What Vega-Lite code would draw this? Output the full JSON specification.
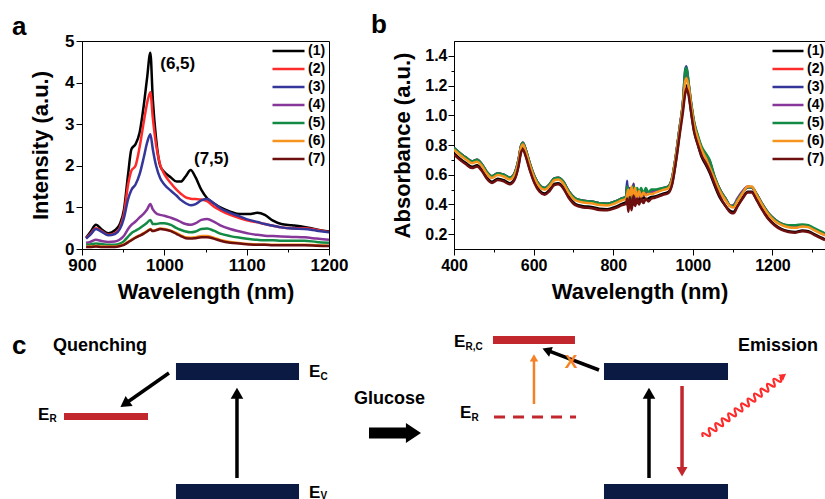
{
"$schema": "https://vega.github.io/schema/vega-lite/v6.json",
"padding": {"left": 11, "top": 11, "right": 0, "bottom": 0},
"background": "white",
"config": {
  "font": "Liberation Sans",
  "view": {"stroke": "black", "strokeWidth": 1},
  "axis": {"grid": false, "domainColor": "black", "tickColor": "black", "labelColor": "black", "titleColor": "black", "labelFontWeight": "bold", "titleFontWeight": "bold", "titleFontSize": 22, "labelFlush": false, "labelOverlap": false, "tickWidth": 1, "domainWidth": 1},
  "legend": {"labelColor": "black", "labelFontWeight": "bold", "labelFontSize": 14}
},
"spacing": 260,
"bounds": "flush",
"vconcat": [
{
  "spacing": 125,
  "bounds": "flush",
  "resolve": {"scale": {"color": "independent"}, "legend": {"color": "independent"}},
  "hconcat": [
  {
    "width": 247, "height": 208,
    "title": {"text": "a", "anchor": "start", "frame": "group", "dx": -70, "dy": 33, "fontSize": 26, "fontWeight": "bold", "baseline": "alphabetic", "offset": 4, "color": "black"},
    "layer": [
    {
      "data": {"values": [
{"w":905,"s":"(1)","v":0.27},{"w":910,"s":"(1)","v":0.40},{"w":917,"s":"(1)","v":0.58},{"w":924,"s":"(1)","v":0.47},{"w":932,"s":"(1)","v":0.38},{"w":940,"s":"(1)","v":0.45},{"w":946,"s":"(1)","v":0.60},{"w":951,"s":"(1)","v":0.95},{"w":956,"s":"(1)","v":1.80},{"w":960,"s":"(1)","v":2.40},{"w":965,"s":"(1)","v":2.52},{"w":970,"s":"(1)","v":2.80},{"w":975,"s":"(1)","v":3.45},{"w":979,"s":"(1)","v":4.10},{"w":983,"s":"(1)","v":4.72},{"w":986,"s":"(1)","v":3.60},{"w":990,"s":"(1)","v":2.65},{"w":995,"s":"(1)","v":2.00},{"w":1000,"s":"(1)","v":1.85},{"w":1008,"s":"(1)","v":1.72},{"w":1015,"s":"(1)","v":1.62},{"w":1020,"s":"(1)","v":1.62},{"w":1026,"s":"(1)","v":1.75},{"w":1032,"s":"(1)","v":1.90},{"w":1038,"s":"(1)","v":1.72},{"w":1045,"s":"(1)","v":1.42},{"w":1052,"s":"(1)","v":1.22},{"w":1060,"s":"(1)","v":1.10},{"w":1068,"s":"(1)","v":1.00},{"w":1080,"s":"(1)","v":0.90},{"w":1092,"s":"(1)","v":0.84},{"w":1103,"s":"(1)","v":0.84},{"w":1113,"s":"(1)","v":0.87},{"w":1122,"s":"(1)","v":0.82},{"w":1132,"s":"(1)","v":0.68},{"w":1142,"s":"(1)","v":0.60},{"w":1155,"s":"(1)","v":0.57},{"w":1170,"s":"(1)","v":0.53},{"w":1185,"s":"(1)","v":0.47},{"w":1200,"s":"(1)","v":0.42},
{"w":905,"s":"(2)","v":0.26},{"w":910,"s":"(2)","v":0.36},{"w":917,"s":"(2)","v":0.50},{"w":924,"s":"(2)","v":0.43},{"w":932,"s":"(2)","v":0.34},{"w":940,"s":"(2)","v":0.38},{"w":946,"s":"(2)","v":0.52},{"w":951,"s":"(2)","v":0.85},{"w":956,"s":"(2)","v":1.55},{"w":960,"s":"(2)","v":1.88},{"w":965,"s":"(2)","v":2.00},{"w":970,"s":"(2)","v":2.45},{"w":975,"s":"(2)","v":3.05},{"w":979,"s":"(2)","v":3.50},{"w":983,"s":"(2)","v":3.77},{"w":986,"s":"(2)","v":3.15},{"w":990,"s":"(2)","v":2.50},{"w":995,"s":"(2)","v":2.02},{"w":1000,"s":"(2)","v":1.80},{"w":1008,"s":"(2)","v":1.58},{"w":1015,"s":"(2)","v":1.42},{"w":1020,"s":"(2)","v":1.33},{"w":1026,"s":"(2)","v":1.24},{"w":1032,"s":"(2)","v":1.21},{"w":1038,"s":"(2)","v":1.20},{"w":1045,"s":"(2)","v":1.19},{"w":1052,"s":"(2)","v":1.15},{"w":1060,"s":"(2)","v":1.02},{"w":1068,"s":"(2)","v":0.93},{"w":1080,"s":"(2)","v":0.82},{"w":1092,"s":"(2)","v":0.74},{"w":1103,"s":"(2)","v":0.68},{"w":1113,"s":"(2)","v":0.64},{"w":1122,"s":"(2)","v":0.60},{"w":1132,"s":"(2)","v":0.56},{"w":1142,"s":"(2)","v":0.52},{"w":1155,"s":"(2)","v":0.50},{"w":1170,"s":"(2)","v":0.50},{"w":1185,"s":"(2)","v":0.46},{"w":1200,"s":"(2)","v":0.41},
{"w":905,"s":"(3)","v":0.25},{"w":910,"s":"(3)","v":0.34},{"w":917,"s":"(3)","v":0.48},{"w":924,"s":"(3)","v":0.41},{"w":932,"s":"(3)","v":0.33},{"w":940,"s":"(3)","v":0.36},{"w":946,"s":"(3)","v":0.48},{"w":951,"s":"(3)","v":0.75},{"w":956,"s":"(3)","v":1.20},{"w":960,"s":"(3)","v":1.42},{"w":965,"s":"(3)","v":1.55},{"w":970,"s":"(3)","v":1.80},{"w":975,"s":"(3)","v":2.20},{"w":979,"s":"(3)","v":2.55},{"w":983,"s":"(3)","v":2.76},{"w":986,"s":"(3)","v":2.40},{"w":990,"s":"(3)","v":2.00},{"w":995,"s":"(3)","v":1.70},{"w":1000,"s":"(3)","v":1.55},{"w":1008,"s":"(3)","v":1.40},{"w":1015,"s":"(3)","v":1.28},{"w":1020,"s":"(3)","v":1.18},{"w":1026,"s":"(3)","v":1.10},{"w":1032,"s":"(3)","v":1.05},{"w":1038,"s":"(3)","v":1.08},{"w":1045,"s":"(3)","v":1.17},{"w":1052,"s":"(3)","v":1.20},{"w":1060,"s":"(3)","v":1.10},{"w":1068,"s":"(3)","v":0.98},{"w":1080,"s":"(3)","v":0.87},{"w":1092,"s":"(3)","v":0.78},{"w":1103,"s":"(3)","v":0.70},{"w":1113,"s":"(3)","v":0.65},{"w":1122,"s":"(3)","v":0.60},{"w":1132,"s":"(3)","v":0.56},{"w":1142,"s":"(3)","v":0.52},{"w":1155,"s":"(3)","v":0.49},{"w":1170,"s":"(3)","v":0.48},{"w":1185,"s":"(3)","v":0.44},{"w":1200,"s":"(3)","v":0.40},
{"w":905,"s":"(4)","v":0.15},{"w":910,"s":"(4)","v":0.17},{"w":917,"s":"(4)","v":0.22},{"w":924,"s":"(4)","v":0.19},{"w":932,"s":"(4)","v":0.17},{"w":940,"s":"(4)","v":0.18},{"w":946,"s":"(4)","v":0.23},{"w":951,"s":"(4)","v":0.32},{"w":956,"s":"(4)","v":0.48},{"w":960,"s":"(4)","v":0.58},{"w":965,"s":"(4)","v":0.66},{"w":970,"s":"(4)","v":0.76},{"w":975,"s":"(4)","v":0.85},{"w":979,"s":"(4)","v":0.95},{"w":983,"s":"(4)","v":1.08},{"w":986,"s":"(4)","v":0.95},{"w":990,"s":"(4)","v":0.86},{"w":995,"s":"(4)","v":0.82},{"w":1000,"s":"(4)","v":0.80},{"w":1008,"s":"(4)","v":0.75},{"w":1015,"s":"(4)","v":0.70},{"w":1020,"s":"(4)","v":0.65},{"w":1026,"s":"(4)","v":0.60},{"w":1032,"s":"(4)","v":0.58},{"w":1038,"s":"(4)","v":0.62},{"w":1045,"s":"(4)","v":0.70},{"w":1052,"s":"(4)","v":0.72},{"w":1060,"s":"(4)","v":0.66},{"w":1068,"s":"(4)","v":0.57},{"w":1080,"s":"(4)","v":0.48},{"w":1092,"s":"(4)","v":0.42},{"w":1103,"s":"(4)","v":0.37},{"w":1113,"s":"(4)","v":0.34},{"w":1122,"s":"(4)","v":0.32},{"w":1132,"s":"(4)","v":0.31},{"w":1142,"s":"(4)","v":0.30},{"w":1155,"s":"(4)","v":0.29},{"w":1170,"s":"(4)","v":0.28},{"w":1185,"s":"(4)","v":0.25},{"w":1200,"s":"(4)","v":0.22},
{"w":905,"s":"(5)","v":0.10},{"w":910,"s":"(5)","v":0.11},{"w":917,"s":"(5)","v":0.13},{"w":924,"s":"(5)","v":0.12},{"w":932,"s":"(5)","v":0.10},{"w":940,"s":"(5)","v":0.10},{"w":946,"s":"(5)","v":0.13},{"w":951,"s":"(5)","v":0.19},{"w":956,"s":"(5)","v":0.30},{"w":960,"s":"(5)","v":0.38},{"w":965,"s":"(5)","v":0.44},{"w":970,"s":"(5)","v":0.50},{"w":975,"s":"(5)","v":0.57},{"w":979,"s":"(5)","v":0.63},{"w":983,"s":"(5)","v":0.70},{"w":986,"s":"(5)","v":0.60},{"w":990,"s":"(5)","v":0.60},{"w":995,"s":"(5)","v":0.62},{"w":1000,"s":"(5)","v":0.62},{"w":1008,"s":"(5)","v":0.58},{"w":1015,"s":"(5)","v":0.50},{"w":1020,"s":"(5)","v":0.46},{"w":1026,"s":"(5)","v":0.42},{"w":1032,"s":"(5)","v":0.40},{"w":1038,"s":"(5)","v":0.42},{"w":1045,"s":"(5)","v":0.48},{"w":1052,"s":"(5)","v":0.49},{"w":1060,"s":"(5)","v":0.44},{"w":1068,"s":"(5)","v":0.37},{"w":1080,"s":"(5)","v":0.31},{"w":1092,"s":"(5)","v":0.27},{"w":1103,"s":"(5)","v":0.24},{"w":1113,"s":"(5)","v":0.22},{"w":1122,"s":"(5)","v":0.21},{"w":1132,"s":"(5)","v":0.21},{"w":1142,"s":"(5)","v":0.20},{"w":1155,"s":"(5)","v":0.20},{"w":1170,"s":"(5)","v":0.20},{"w":1185,"s":"(5)","v":0.17},{"w":1200,"s":"(5)","v":0.15},
{"w":905,"s":"(6)","v":0.06},{"w":910,"s":"(6)","v":0.06},{"w":917,"s":"(6)","v":0.07},{"w":924,"s":"(6)","v":0.06},{"w":932,"s":"(6)","v":0.06},{"w":940,"s":"(6)","v":0.06},{"w":946,"s":"(6)","v":0.08},{"w":951,"s":"(6)","v":0.11},{"w":956,"s":"(6)","v":0.17},{"w":960,"s":"(6)","v":0.22},{"w":965,"s":"(6)","v":0.28},{"w":970,"s":"(6)","v":0.33},{"w":975,"s":"(6)","v":0.38},{"w":979,"s":"(6)","v":0.43},{"w":983,"s":"(6)","v":0.48},{"w":986,"s":"(6)","v":0.44},{"w":990,"s":"(6)","v":0.46},{"w":995,"s":"(6)","v":0.49},{"w":1000,"s":"(6)","v":0.48},{"w":1008,"s":"(6)","v":0.44},{"w":1015,"s":"(6)","v":0.38},{"w":1020,"s":"(6)","v":0.33},{"w":1026,"s":"(6)","v":0.28},{"w":1032,"s":"(6)","v":0.27},{"w":1038,"s":"(6)","v":0.28},{"w":1045,"s":"(6)","v":0.31},{"w":1052,"s":"(6)","v":0.31},{"w":1060,"s":"(6)","v":0.27},{"w":1068,"s":"(6)","v":0.22},{"w":1080,"s":"(6)","v":0.17},{"w":1092,"s":"(6)","v":0.14},{"w":1103,"s":"(6)","v":0.12},{"w":1113,"s":"(6)","v":0.11},{"w":1122,"s":"(6)","v":0.11},{"w":1132,"s":"(6)","v":0.10},{"w":1142,"s":"(6)","v":0.10},{"w":1155,"s":"(6)","v":0.10},{"w":1170,"s":"(6)","v":0.10},{"w":1185,"s":"(6)","v":0.09},{"w":1200,"s":"(6)","v":0.08},
{"w":905,"s":"(7)","v":0.05},{"w":910,"s":"(7)","v":0.05},{"w":917,"s":"(7)","v":0.06},{"w":924,"s":"(7)","v":0.05},{"w":932,"s":"(7)","v":0.05},{"w":940,"s":"(7)","v":0.05},{"w":946,"s":"(7)","v":0.07},{"w":951,"s":"(7)","v":0.10},{"w":956,"s":"(7)","v":0.16},{"w":960,"s":"(7)","v":0.21},{"w":965,"s":"(7)","v":0.27},{"w":970,"s":"(7)","v":0.32},{"w":975,"s":"(7)","v":0.37},{"w":979,"s":"(7)","v":0.42},{"w":983,"s":"(7)","v":0.47},{"w":986,"s":"(7)","v":0.43},{"w":990,"s":"(7)","v":0.45},{"w":995,"s":"(7)","v":0.48},{"w":1000,"s":"(7)","v":0.47},{"w":1008,"s":"(7)","v":0.43},{"w":1015,"s":"(7)","v":0.36},{"w":1020,"s":"(7)","v":0.31},{"w":1026,"s":"(7)","v":0.26},{"w":1032,"s":"(7)","v":0.25},{"w":1038,"s":"(7)","v":0.26},{"w":1045,"s":"(7)","v":0.28},{"w":1052,"s":"(7)","v":0.28},{"w":1060,"s":"(7)","v":0.25},{"w":1068,"s":"(7)","v":0.20},{"w":1080,"s":"(7)","v":0.15},{"w":1092,"s":"(7)","v":0.13},{"w":1103,"s":"(7)","v":0.11},{"w":1113,"s":"(7)","v":0.10},{"w":1122,"s":"(7)","v":0.10},{"w":1132,"s":"(7)","v":0.09},{"w":1142,"s":"(7)","v":0.09},{"w":1155,"s":"(7)","v":0.09},{"w":1170,"s":"(7)","v":0.09},{"w":1185,"s":"(7)","v":0.08},{"w":1200,"s":"(7)","v":0.07}
      ]},
      "mark": {"type": "line", "strokeWidth": 2.5, "interpolate": "monotone", "clip": true},
      "encoding": {
        "x": {"field": "w", "type": "quantitative", "scale": {"domain": [900, 1200], "nice": false, "zero": false},
              "axis": {"values": [900, 950, 1000, 1050, 1100, 1150, 1200], "format": "d", "labelExpr": "datum.value % 100 === 0 ? datum.label : ''", "tickSize": {"condition": {"test": "datum.value % 100 === 0", "value": 6}, "value": 3}, "title": "Wavelength (nm)", "titlePadding": 8, "labelFontSize": 17, "labelPadding": 2}},
        "y": {"field": "v", "type": "quantitative", "scale": {"domain": [0, 5], "nice": false},
              "axis": {"values": [0, 0.5, 1, 1.5, 2, 2.5, 3, 3.5, 4, 4.5, 5], "format": ".0f", "labelExpr": "datum.value % 1 === 0 ? datum.label : ''", "tickSize": {"condition": {"test": "datum.value % 1 === 0", "value": 6}, "value": 3}, "title": "Intensity (a.u.)", "titlePadding": 12, "labelFontSize": 17, "labelPadding": 2}},
        "color": {"field": "s", "type": "nominal", "scale": {"domain": ["(1)", "(2)", "(3)", "(4)", "(5)", "(6)", "(7)"], "range": ["#000000", "#ff2a2a", "#35369a", "#87369a", "#138a44", "#f7941d", "#6e0f0f"]},
                  "legend": {"orient": "none", "legendX": 189, "legendY": 4, "title": null, "symbolType": "stroke", "symbolSize": 1024, "symbolStrokeWidth": 2.5, "clipHeight": 12, "rowPadding": 4, "labelOffset": 2, "padding": 0}}
      }
    },
    {
      "data": {"values": [{"w": 995, "v": 4.33, "t": "(6,5)"}, {"w": 1036, "v": 2.04, "t": "(7,5)"}]},
      "mark": {"type": "text", "align": "left", "baseline": "alphabetic", "fontSize": 17, "fontWeight": "bold", "color": "black"},
      "encoding": {"x": {"field": "w", "type": "quantitative"}, "y": {"field": "v", "type": "quantitative"}, "text": {"field": "t"}}
    }
    ]
  },
  {
    "width": 371, "height": 208,
    "title": {"text": "b", "anchor": "start", "frame": "group", "dx": -83, "dy": 22, "fontSize": 26, "fontWeight": "bold", "baseline": "alphabetic", "offset": 4, "color": "black"},
    "data": {"values": [
{"w":400,"s":"(1)","v":0.743},{"w":415,"s":"(1)","v":0.708},{"w":430,"s":"(1)","v":0.678},{"w":445,"s":"(1)","v":0.653},{"w":458,"s":"(1)","v":0.663},{"w":470,"s":"(1)","v":0.633},{"w":482,"s":"(1)","v":0.583},{"w":495,"s":"(1)","v":0.553},{"w":510,"s":"(1)","v":0.573},{"w":525,"s":"(1)","v":0.563},{"w":540,"s":"(1)","v":0.543},{"w":552,"s":"(1)","v":0.573},{"w":562,"s":"(1)","v":0.663},{"w":568,"s":"(1)","v":0.753},{"w":573,"s":"(1)","v":0.778},{"w":580,"s":"(1)","v":0.733},{"w":590,"s":"(1)","v":0.643},{"w":602,"s":"(1)","v":0.553},{"w":615,"s":"(1)","v":0.493},{"w":628,"s":"(1)","v":0.473},{"w":640,"s":"(1)","v":0.498},{"w":652,"s":"(1)","v":0.538},{"w":662,"s":"(1)","v":0.543},{"w":674,"s":"(1)","v":0.518},{"w":688,"s":"(1)","v":0.453},{"w":705,"s":"(1)","v":0.403},{"w":725,"s":"(1)","v":0.388},{"w":745,"s":"(1)","v":0.383},{"w":765,"s":"(1)","v":0.371},{"w":785,"s":"(1)","v":0.368},{"w":805,"s":"(1)","v":0.383},{"w":822,"s":"(1)","v":0.403},{"w":832,"s":"(1)","v":0.413},{"w":835,"s":"(1)","v":0.40},{"w":838,"s":"(1)","v":0.45},{"w":842,"s":"(1)","v":0.38},{"w":846,"s":"(1)","v":0.46},{"w":851,"s":"(1)","v":0.40},{"w":855,"s":"(1)","v":0.45},{"w":860,"s":"(1)","v":0.41},{"w":865,"s":"(1)","v":0.45},{"w":870,"s":"(1)","v":0.42},{"w":876,"s":"(1)","v":0.45},{"w":882,"s":"(1)","v":0.43},{"w":888,"s":"(1)","v":0.44},{"w":896,"s":"(1)","v":0.45},{"w":905,"s":"(1)","v":0.453},{"w":915,"s":"(1)","v":0.463},{"w":925,"s":"(1)","v":0.473},{"w":938,"s":"(1)","v":0.483},{"w":948,"s":"(1)","v":0.543},{"w":958,"s":"(1)","v":0.703},{"w":967,"s":"(1)","v":0.89},{"w":975,"s":"(1)","v":1.05},{"w":981,"s":"(1)","v":1.17},{"w":984,"s":"(1)","v":1.20},{"w":989,"s":"(1)","v":1.16},{"w":995,"s":"(1)","v":1.04},{"w":1003,"s":"(1)","v":0.90},{"w":1012,"s":"(1)","v":0.81},{"w":1022,"s":"(1)","v":0.72},{"w":1032,"s":"(1)","v":0.67},{"w":1042,"s":"(1)","v":0.615},{"w":1055,"s":"(1)","v":0.525},{"w":1068,"s":"(1)","v":0.445},{"w":1082,"s":"(1)","v":0.39},{"w":1095,"s":"(1)","v":0.355},{"w":1102,"s":"(1)","v":0.35},{"w":1112,"s":"(1)","v":0.39},{"w":1125,"s":"(1)","v":0.445},{"w":1138,"s":"(1)","v":0.485},{"w":1148,"s":"(1)","v":0.485},{"w":1160,"s":"(1)","v":0.435},{"w":1175,"s":"(1)","v":0.365},{"w":1190,"s":"(1)","v":0.305},{"w":1205,"s":"(1)","v":0.265},{"w":1222,"s":"(1)","v":0.235},{"w":1240,"s":"(1)","v":0.22},{"w":1258,"s":"(1)","v":0.215},{"w":1275,"s":"(1)","v":0.225},{"w":1290,"s":"(1)","v":0.22},{"w":1305,"s":"(1)","v":0.20},{"w":1320,"s":"(1)","v":0.18},{"w":1332,"s":"(1)","v":0.165},
{"w":400,"s":"(2)","v":0.78},{"w":415,"s":"(2)","v":0.745},{"w":430,"s":"(2)","v":0.715},{"w":445,"s":"(2)","v":0.69},{"w":458,"s":"(2)","v":0.70},{"w":470,"s":"(2)","v":0.67},{"w":482,"s":"(2)","v":0.62},{"w":495,"s":"(2)","v":0.59},{"w":510,"s":"(2)","v":0.61},{"w":525,"s":"(2)","v":0.60},{"w":540,"s":"(2)","v":0.58},{"w":552,"s":"(2)","v":0.61},{"w":562,"s":"(2)","v":0.70},{"w":568,"s":"(2)","v":0.79},{"w":573,"s":"(2)","v":0.815},{"w":580,"s":"(2)","v":0.77},{"w":590,"s":"(2)","v":0.68},{"w":602,"s":"(2)","v":0.59},{"w":615,"s":"(2)","v":0.53},{"w":628,"s":"(2)","v":0.51},{"w":640,"s":"(2)","v":0.535},{"w":652,"s":"(2)","v":0.575},{"w":662,"s":"(2)","v":0.58},{"w":674,"s":"(2)","v":0.555},{"w":688,"s":"(2)","v":0.49},{"w":705,"s":"(2)","v":0.44},{"w":725,"s":"(2)","v":0.425},{"w":745,"s":"(2)","v":0.42},{"w":765,"s":"(2)","v":0.408},{"w":785,"s":"(2)","v":0.405},{"w":805,"s":"(2)","v":0.42},{"w":822,"s":"(2)","v":0.44},{"w":832,"s":"(2)","v":0.45},{"w":835,"s":"(2)","v":0.53},{"w":838,"s":"(2)","v":0.42},{"w":842,"s":"(2)","v":0.51},{"w":846,"s":"(2)","v":0.41},{"w":851,"s":"(2)","v":0.54},{"w":855,"s":"(2)","v":0.44},{"w":860,"s":"(2)","v":0.50},{"w":865,"s":"(2)","v":0.45},{"w":870,"s":"(2)","v":0.50},{"w":876,"s":"(2)","v":0.46},{"w":882,"s":"(2)","v":0.50},{"w":888,"s":"(2)","v":0.47},{"w":896,"s":"(2)","v":0.49},{"w":905,"s":"(2)","v":0.49},{"w":915,"s":"(2)","v":0.50},{"w":925,"s":"(2)","v":0.51},{"w":938,"s":"(2)","v":0.52},{"w":948,"s":"(2)","v":0.58},{"w":958,"s":"(2)","v":0.74},{"w":967,"s":"(2)","v":0.92},{"w":975,"s":"(2)","v":1.08},{"w":981,"s":"(2)","v":1.26},{"w":984,"s":"(2)","v":1.28},{"w":989,"s":"(2)","v":1.21},{"w":995,"s":"(2)","v":1.09},{"w":1003,"s":"(2)","v":0.95},{"w":1012,"s":"(2)","v":0.86},{"w":1022,"s":"(2)","v":0.78},{"w":1032,"s":"(2)","v":0.74},{"w":1042,"s":"(2)","v":0.69},{"w":1055,"s":"(2)","v":0.58},{"w":1068,"s":"(2)","v":0.50},{"w":1082,"s":"(2)","v":0.44},{"w":1095,"s":"(2)","v":0.39},{"w":1102,"s":"(2)","v":0.39},{"w":1112,"s":"(2)","v":0.43},{"w":1125,"s":"(2)","v":0.48},{"w":1138,"s":"(2)","v":0.515},{"w":1148,"s":"(2)","v":0.515},{"w":1160,"s":"(2)","v":0.47},{"w":1175,"s":"(2)","v":0.40},{"w":1190,"s":"(2)","v":0.34},{"w":1205,"s":"(2)","v":0.30},{"w":1222,"s":"(2)","v":0.27},{"w":1240,"s":"(2)","v":0.255},{"w":1258,"s":"(2)","v":0.25},{"w":1275,"s":"(2)","v":0.26},{"w":1290,"s":"(2)","v":0.255},{"w":1305,"s":"(2)","v":0.235},{"w":1320,"s":"(2)","v":0.215},{"w":1332,"s":"(2)","v":0.20},
{"w":400,"s":"(3)","v":0.78},{"w":415,"s":"(3)","v":0.745},{"w":430,"s":"(3)","v":0.715},{"w":445,"s":"(3)","v":0.69},{"w":458,"s":"(3)","v":0.70},{"w":470,"s":"(3)","v":0.67},{"w":482,"s":"(3)","v":0.62},{"w":495,"s":"(3)","v":0.59},{"w":510,"s":"(3)","v":0.61},{"w":525,"s":"(3)","v":0.60},{"w":540,"s":"(3)","v":0.58},{"w":552,"s":"(3)","v":0.61},{"w":562,"s":"(3)","v":0.70},{"w":568,"s":"(3)","v":0.79},{"w":573,"s":"(3)","v":0.815},{"w":580,"s":"(3)","v":0.77},{"w":590,"s":"(3)","v":0.68},{"w":602,"s":"(3)","v":0.59},{"w":615,"s":"(3)","v":0.53},{"w":628,"s":"(3)","v":0.51},{"w":640,"s":"(3)","v":0.535},{"w":652,"s":"(3)","v":0.575},{"w":662,"s":"(3)","v":0.58},{"w":674,"s":"(3)","v":0.555},{"w":688,"s":"(3)","v":0.49},{"w":705,"s":"(3)","v":0.44},{"w":725,"s":"(3)","v":0.425},{"w":745,"s":"(3)","v":0.42},{"w":765,"s":"(3)","v":0.408},{"w":785,"s":"(3)","v":0.405},{"w":805,"s":"(3)","v":0.42},{"w":822,"s":"(3)","v":0.44},{"w":832,"s":"(3)","v":0.45},{"w":835,"s":"(3)","v":0.56},{"w":838,"s":"(3)","v":0.42},{"w":842,"s":"(3)","v":0.51},{"w":846,"s":"(3)","v":0.41},{"w":851,"s":"(3)","v":0.54},{"w":855,"s":"(3)","v":0.44},{"w":860,"s":"(3)","v":0.50},{"w":865,"s":"(3)","v":0.45},{"w":870,"s":"(3)","v":0.50},{"w":876,"s":"(3)","v":0.46},{"w":882,"s":"(3)","v":0.50},{"w":888,"s":"(3)","v":0.47},{"w":896,"s":"(3)","v":0.49},{"w":905,"s":"(3)","v":0.49},{"w":915,"s":"(3)","v":0.50},{"w":925,"s":"(3)","v":0.51},{"w":938,"s":"(3)","v":0.52},{"w":948,"s":"(3)","v":0.58},{"w":958,"s":"(3)","v":0.74},{"w":967,"s":"(3)","v":0.92},{"w":975,"s":"(3)","v":1.08},{"w":981,"s":"(3)","v":1.31},{"w":984,"s":"(3)","v":1.33},{"w":989,"s":"(3)","v":1.22},{"w":995,"s":"(3)","v":1.09},{"w":1003,"s":"(3)","v":0.95},{"w":1012,"s":"(3)","v":0.86},{"w":1022,"s":"(3)","v":0.78},{"w":1032,"s":"(3)","v":0.74},{"w":1042,"s":"(3)","v":0.69},{"w":1055,"s":"(3)","v":0.58},{"w":1068,"s":"(3)","v":0.50},{"w":1082,"s":"(3)","v":0.44},{"w":1095,"s":"(3)","v":0.39},{"w":1102,"s":"(3)","v":0.39},{"w":1112,"s":"(3)","v":0.43},{"w":1125,"s":"(3)","v":0.48},{"w":1138,"s":"(3)","v":0.515},{"w":1148,"s":"(3)","v":0.515},{"w":1160,"s":"(3)","v":0.47},{"w":1175,"s":"(3)","v":0.40},{"w":1190,"s":"(3)","v":0.34},{"w":1205,"s":"(3)","v":0.30},{"w":1222,"s":"(3)","v":0.27},{"w":1240,"s":"(3)","v":0.255},{"w":1258,"s":"(3)","v":0.25},{"w":1275,"s":"(3)","v":0.26},{"w":1290,"s":"(3)","v":0.255},{"w":1305,"s":"(3)","v":0.235},{"w":1320,"s":"(3)","v":0.215},{"w":1332,"s":"(3)","v":0.20},
{"w":400,"s":"(4)","v":0.775},{"w":415,"s":"(4)","v":0.74},{"w":430,"s":"(4)","v":0.71},{"w":445,"s":"(4)","v":0.685},{"w":458,"s":"(4)","v":0.695},{"w":470,"s":"(4)","v":0.665},{"w":482,"s":"(4)","v":0.615},{"w":495,"s":"(4)","v":0.585},{"w":510,"s":"(4)","v":0.605},{"w":525,"s":"(4)","v":0.595},{"w":540,"s":"(4)","v":0.575},{"w":552,"s":"(4)","v":0.605},{"w":562,"s":"(4)","v":0.695},{"w":568,"s":"(4)","v":0.785},{"w":573,"s":"(4)","v":0.81},{"w":580,"s":"(4)","v":0.765},{"w":590,"s":"(4)","v":0.675},{"w":602,"s":"(4)","v":0.585},{"w":615,"s":"(4)","v":0.525},{"w":628,"s":"(4)","v":0.505},{"w":640,"s":"(4)","v":0.53},{"w":652,"s":"(4)","v":0.57},{"w":662,"s":"(4)","v":0.575},{"w":674,"s":"(4)","v":0.55},{"w":688,"s":"(4)","v":0.485},{"w":705,"s":"(4)","v":0.435},{"w":725,"s":"(4)","v":0.42},{"w":745,"s":"(4)","v":0.415},{"w":765,"s":"(4)","v":0.403},{"w":785,"s":"(4)","v":0.40},{"w":805,"s":"(4)","v":0.415},{"w":822,"s":"(4)","v":0.435},{"w":832,"s":"(4)","v":0.445},{"w":835,"s":"(4)","v":0.50},{"w":838,"s":"(4)","v":0.44},{"w":842,"s":"(4)","v":0.49},{"w":846,"s":"(4)","v":0.43},{"w":851,"s":"(4)","v":0.51},{"w":855,"s":"(4)","v":0.45},{"w":860,"s":"(4)","v":0.49},{"w":865,"s":"(4)","v":0.46},{"w":870,"s":"(4)","v":0.49},{"w":876,"s":"(4)","v":0.46},{"w":882,"s":"(4)","v":0.49},{"w":888,"s":"(4)","v":0.47},{"w":896,"s":"(4)","v":0.485},{"w":905,"s":"(4)","v":0.485},{"w":915,"s":"(4)","v":0.495},{"w":925,"s":"(4)","v":0.505},{"w":938,"s":"(4)","v":0.515},{"w":948,"s":"(4)","v":0.575},{"w":958,"s":"(4)","v":0.735},{"w":967,"s":"(4)","v":0.915},{"w":975,"s":"(4)","v":1.075},{"w":981,"s":"(4)","v":1.28},{"w":984,"s":"(4)","v":1.30},{"w":989,"s":"(4)","v":1.21},{"w":995,"s":"(4)","v":1.085},{"w":1003,"s":"(4)","v":0.945},{"w":1012,"s":"(4)","v":0.855},{"w":1022,"s":"(4)","v":0.775},{"w":1032,"s":"(4)","v":0.735},{"w":1042,"s":"(4)","v":0.685},{"w":1055,"s":"(4)","v":0.575},{"w":1068,"s":"(4)","v":0.495},{"w":1082,"s":"(4)","v":0.435},{"w":1095,"s":"(4)","v":0.39},{"w":1102,"s":"(4)","v":0.395},{"w":1112,"s":"(4)","v":0.44},{"w":1125,"s":"(4)","v":0.49},{"w":1138,"s":"(4)","v":0.52},{"w":1148,"s":"(4)","v":0.515},{"w":1160,"s":"(4)","v":0.465},{"w":1175,"s":"(4)","v":0.395},{"w":1190,"s":"(4)","v":0.335},{"w":1205,"s":"(4)","v":0.295},{"w":1222,"s":"(4)","v":0.265},{"w":1240,"s":"(4)","v":0.25},{"w":1258,"s":"(4)","v":0.245},{"w":1275,"s":"(4)","v":0.255},{"w":1290,"s":"(4)","v":0.25},{"w":1305,"s":"(4)","v":0.23},{"w":1320,"s":"(4)","v":0.21},{"w":1332,"s":"(4)","v":0.195},
{"w":400,"s":"(5)","v":0.78},{"w":415,"s":"(5)","v":0.745},{"w":430,"s":"(5)","v":0.715},{"w":445,"s":"(5)","v":0.69},{"w":458,"s":"(5)","v":0.70},{"w":470,"s":"(5)","v":0.67},{"w":482,"s":"(5)","v":0.62},{"w":495,"s":"(5)","v":0.59},{"w":510,"s":"(5)","v":0.61},{"w":525,"s":"(5)","v":0.60},{"w":540,"s":"(5)","v":0.58},{"w":552,"s":"(5)","v":0.61},{"w":562,"s":"(5)","v":0.70},{"w":568,"s":"(5)","v":0.79},{"w":573,"s":"(5)","v":0.815},{"w":580,"s":"(5)","v":0.77},{"w":590,"s":"(5)","v":0.68},{"w":602,"s":"(5)","v":0.59},{"w":615,"s":"(5)","v":0.53},{"w":628,"s":"(5)","v":0.51},{"w":640,"s":"(5)","v":0.535},{"w":652,"s":"(5)","v":0.575},{"w":662,"s":"(5)","v":0.58},{"w":674,"s":"(5)","v":0.555},{"w":688,"s":"(5)","v":0.49},{"w":705,"s":"(5)","v":0.44},{"w":725,"s":"(5)","v":0.425},{"w":745,"s":"(5)","v":0.42},{"w":765,"s":"(5)","v":0.408},{"w":785,"s":"(5)","v":0.405},{"w":805,"s":"(5)","v":0.42},{"w":822,"s":"(5)","v":0.44},{"w":832,"s":"(5)","v":0.45},{"w":835,"s":"(5)","v":0.52},{"w":838,"s":"(5)","v":0.43},{"w":842,"s":"(5)","v":0.50},{"w":846,"s":"(5)","v":0.44},{"w":851,"s":"(5)","v":0.52},{"w":855,"s":"(5)","v":0.46},{"w":860,"s":"(5)","v":0.51},{"w":865,"s":"(5)","v":0.47},{"w":870,"s":"(5)","v":0.51},{"w":876,"s":"(5)","v":0.47},{"w":882,"s":"(5)","v":0.51},{"w":888,"s":"(5)","v":0.48},{"w":896,"s":"(5)","v":0.50},{"w":905,"s":"(5)","v":0.50},{"w":915,"s":"(5)","v":0.505},{"w":925,"s":"(5)","v":0.51},{"w":938,"s":"(5)","v":0.52},{"w":948,"s":"(5)","v":0.58},{"w":958,"s":"(5)","v":0.74},{"w":967,"s":"(5)","v":0.92},{"w":975,"s":"(5)","v":1.08},{"w":981,"s":"(5)","v":1.30},{"w":984,"s":"(5)","v":1.32},{"w":989,"s":"(5)","v":1.23},{"w":995,"s":"(5)","v":1.10},{"w":1003,"s":"(5)","v":0.96},{"w":1012,"s":"(5)","v":0.87},{"w":1022,"s":"(5)","v":0.79},{"w":1032,"s":"(5)","v":0.745},{"w":1042,"s":"(5)","v":0.70},{"w":1055,"s":"(5)","v":0.585},{"w":1068,"s":"(5)","v":0.50},{"w":1082,"s":"(5)","v":0.44},{"w":1095,"s":"(5)","v":0.39},{"w":1102,"s":"(5)","v":0.39},{"w":1112,"s":"(5)","v":0.43},{"w":1125,"s":"(5)","v":0.48},{"w":1138,"s":"(5)","v":0.515},{"w":1148,"s":"(5)","v":0.515},{"w":1160,"s":"(5)","v":0.47},{"w":1175,"s":"(5)","v":0.40},{"w":1190,"s":"(5)","v":0.34},{"w":1205,"s":"(5)","v":0.30},{"w":1222,"s":"(5)","v":0.27},{"w":1240,"s":"(5)","v":0.26},{"w":1258,"s":"(5)","v":0.26},{"w":1275,"s":"(5)","v":0.265},{"w":1290,"s":"(5)","v":0.26},{"w":1305,"s":"(5)","v":0.24},{"w":1320,"s":"(5)","v":0.22},{"w":1332,"s":"(5)","v":0.205},
{"w":400,"s":"(6)","v":0.768},{"w":415,"s":"(6)","v":0.733},{"w":430,"s":"(6)","v":0.703},{"w":445,"s":"(6)","v":0.678},{"w":458,"s":"(6)","v":0.688},{"w":470,"s":"(6)","v":0.658},{"w":482,"s":"(6)","v":0.608},{"w":495,"s":"(6)","v":0.578},{"w":510,"s":"(6)","v":0.598},{"w":525,"s":"(6)","v":0.588},{"w":540,"s":"(6)","v":0.568},{"w":552,"s":"(6)","v":0.598},{"w":562,"s":"(6)","v":0.688},{"w":568,"s":"(6)","v":0.778},{"w":573,"s":"(6)","v":0.803},{"w":580,"s":"(6)","v":0.758},{"w":590,"s":"(6)","v":0.668},{"w":602,"s":"(6)","v":0.578},{"w":615,"s":"(6)","v":0.518},{"w":628,"s":"(6)","v":0.498},{"w":640,"s":"(6)","v":0.523},{"w":652,"s":"(6)","v":0.563},{"w":662,"s":"(6)","v":0.568},{"w":674,"s":"(6)","v":0.543},{"w":688,"s":"(6)","v":0.478},{"w":705,"s":"(6)","v":0.428},{"w":725,"s":"(6)","v":0.413},{"w":745,"s":"(6)","v":0.408},{"w":765,"s":"(6)","v":0.396},{"w":785,"s":"(6)","v":0.393},{"w":805,"s":"(6)","v":0.408},{"w":822,"s":"(6)","v":0.428},{"w":832,"s":"(6)","v":0.438},{"w":835,"s":"(6)","v":0.47},{"w":838,"s":"(6)","v":0.50},{"w":842,"s":"(6)","v":0.44},{"w":846,"s":"(6)","v":0.52},{"w":851,"s":"(6)","v":0.45},{"w":855,"s":"(6)","v":0.51},{"w":860,"s":"(6)","v":0.44},{"w":865,"s":"(6)","v":0.49},{"w":870,"s":"(6)","v":0.45},{"w":876,"s":"(6)","v":0.48},{"w":882,"s":"(6)","v":0.46},{"w":888,"s":"(6)","v":0.47},{"w":896,"s":"(6)","v":0.47},{"w":905,"s":"(6)","v":0.478},{"w":915,"s":"(6)","v":0.488},{"w":925,"s":"(6)","v":0.498},{"w":938,"s":"(6)","v":0.508},{"w":948,"s":"(6)","v":0.568},{"w":958,"s":"(6)","v":0.728},{"w":967,"s":"(6)","v":0.90},{"w":975,"s":"(6)","v":1.06},{"w":981,"s":"(6)","v":1.23},{"w":984,"s":"(6)","v":1.25},{"w":989,"s":"(6)","v":1.20},{"w":995,"s":"(6)","v":1.08},{"w":1003,"s":"(6)","v":0.938},{"w":1012,"s":"(6)","v":0.848},{"w":1022,"s":"(6)","v":0.768},{"w":1032,"s":"(6)","v":0.715},{"w":1042,"s":"(6)","v":0.65},{"w":1055,"s":"(6)","v":0.568},{"w":1068,"s":"(6)","v":0.488},{"w":1082,"s":"(6)","v":0.428},{"w":1095,"s":"(6)","v":0.385},{"w":1102,"s":"(6)","v":0.38},{"w":1112,"s":"(6)","v":0.42},{"w":1125,"s":"(6)","v":0.475},{"w":1138,"s":"(6)","v":0.52},{"w":1148,"s":"(6)","v":0.52},{"w":1160,"s":"(6)","v":0.465},{"w":1175,"s":"(6)","v":0.392},{"w":1190,"s":"(6)","v":0.332},{"w":1205,"s":"(6)","v":0.29},{"w":1222,"s":"(6)","v":0.262},{"w":1240,"s":"(6)","v":0.247},{"w":1258,"s":"(6)","v":0.243},{"w":1275,"s":"(6)","v":0.252},{"w":1290,"s":"(6)","v":0.247},{"w":1305,"s":"(6)","v":0.227},{"w":1320,"s":"(6)","v":0.207},{"w":1332,"s":"(6)","v":0.192},
{"w":400,"s":"(7)","v":0.735},{"w":415,"s":"(7)","v":0.70},{"w":430,"s":"(7)","v":0.67},{"w":445,"s":"(7)","v":0.645},{"w":458,"s":"(7)","v":0.655},{"w":470,"s":"(7)","v":0.625},{"w":482,"s":"(7)","v":0.575},{"w":495,"s":"(7)","v":0.545},{"w":510,"s":"(7)","v":0.565},{"w":525,"s":"(7)","v":0.555},{"w":540,"s":"(7)","v":0.535},{"w":552,"s":"(7)","v":0.565},{"w":562,"s":"(7)","v":0.655},{"w":568,"s":"(7)","v":0.745},{"w":573,"s":"(7)","v":0.77},{"w":580,"s":"(7)","v":0.725},{"w":590,"s":"(7)","v":0.635},{"w":602,"s":"(7)","v":0.545},{"w":615,"s":"(7)","v":0.485},{"w":628,"s":"(7)","v":0.465},{"w":640,"s":"(7)","v":0.49},{"w":652,"s":"(7)","v":0.53},{"w":662,"s":"(7)","v":0.535},{"w":674,"s":"(7)","v":0.51},{"w":688,"s":"(7)","v":0.445},{"w":705,"s":"(7)","v":0.395},{"w":725,"s":"(7)","v":0.38},{"w":745,"s":"(7)","v":0.375},{"w":765,"s":"(7)","v":0.363},{"w":785,"s":"(7)","v":0.36},{"w":805,"s":"(7)","v":0.375},{"w":822,"s":"(7)","v":0.395},{"w":832,"s":"(7)","v":0.405},{"w":835,"s":"(7)","v":0.44},{"w":838,"s":"(7)","v":0.35},{"w":842,"s":"(7)","v":0.45},{"w":846,"s":"(7)","v":0.36},{"w":851,"s":"(7)","v":0.46},{"w":855,"s":"(7)","v":0.39},{"w":860,"s":"(7)","v":0.44},{"w":865,"s":"(7)","v":0.40},{"w":870,"s":"(7)","v":0.44},{"w":876,"s":"(7)","v":0.41},{"w":882,"s":"(7)","v":0.44},{"w":888,"s":"(7)","v":0.42},{"w":896,"s":"(7)","v":0.44},{"w":905,"s":"(7)","v":0.445},{"w":915,"s":"(7)","v":0.455},{"w":925,"s":"(7)","v":0.465},{"w":938,"s":"(7)","v":0.475},{"w":948,"s":"(7)","v":0.535},{"w":958,"s":"(7)","v":0.695},{"w":967,"s":"(7)","v":0.87},{"w":975,"s":"(7)","v":1.02},{"w":981,"s":"(7)","v":1.15},{"w":984,"s":"(7)","v":1.18},{"w":989,"s":"(7)","v":1.14},{"w":995,"s":"(7)","v":1.03},{"w":1003,"s":"(7)","v":0.89},{"w":1012,"s":"(7)","v":0.805},{"w":1022,"s":"(7)","v":0.73},{"w":1032,"s":"(7)","v":0.68},{"w":1042,"s":"(7)","v":0.625},{"w":1055,"s":"(7)","v":0.535},{"w":1068,"s":"(7)","v":0.455},{"w":1082,"s":"(7)","v":0.39},{"w":1095,"s":"(7)","v":0.345},{"w":1102,"s":"(7)","v":0.34},{"w":1112,"s":"(7)","v":0.385},{"w":1125,"s":"(7)","v":0.44},{"w":1138,"s":"(7)","v":0.48},{"w":1148,"s":"(7)","v":0.48},{"w":1160,"s":"(7)","v":0.43},{"w":1175,"s":"(7)","v":0.36},{"w":1190,"s":"(7)","v":0.30},{"w":1205,"s":"(7)","v":0.26},{"w":1222,"s":"(7)","v":0.23},{"w":1240,"s":"(7)","v":0.215},{"w":1258,"s":"(7)","v":0.21},{"w":1275,"s":"(7)","v":0.22},{"w":1290,"s":"(7)","v":0.215},{"w":1305,"s":"(7)","v":0.195},{"w":1320,"s":"(7)","v":0.175},{"w":1332,"s":"(7)","v":0.16}
    ]},
    "mark": {"type": "line", "strokeWidth": 2.5, "interpolate": "monotone", "clip": true},
    "encoding": {
      "x": {"field": "w", "type": "quantitative", "scale": {"domain": [400, 1332], "nice": false, "zero": false},
            "axis": {"values": [400, 500, 600, 700, 800, 900, 1000, 1100, 1200, 1300], "format": "d", "labelExpr": "datum.value % 200 === 0 ? datum.label : ''", "tickSize": {"condition": {"test": "datum.value % 200 === 0", "value": 6}, "value": 3}, "title": "Wavelength (nm)", "titlePadding": 8, "labelFontSize": 16, "labelPadding": 2}},
      "y": {"field": "v", "type": "quantitative", "scale": {"domain": [0.1, 1.5], "nice": false, "zero": false},
            "axis": {"values": [0.2, 0.3, 0.4, 0.5, 0.6, 0.7, 0.8, 0.9, 1.0, 1.1, 1.2, 1.3, 1.4], "format": ".1f", "labelExpr": "round(datum.value * 10) % 2 === 0 ? datum.label : ''", "tickSize": {"condition": {"test": "round(datum.value * 10) % 2 === 0", "value": 6}, "value": 3}, "title": "Absorbance (a.u.)", "titlePadding": 10, "labelFontSize": 16, "labelPadding": 1}},
      "color": {"field": "s", "type": "nominal", "scale": {"domain": ["(1)", "(2)", "(3)", "(4)", "(5)", "(6)", "(7)"], "range": ["#000000", "#ff2a2a", "#35369a", "#87369a", "#138a44", "#f7941d", "#6e0f0f"]},
                "legend": {"orient": "none", "legendX": 317, "legendY": 4, "title": null, "symbolType": "stroke", "symbolSize": 961, "symbolStrokeWidth": 2.5, "clipHeight": 12, "rowPadding": 4, "labelOffset": 2, "padding": 0}}
    }
  }
  ]
},
{
  "width": 744, "height": 199,
  "view": {"stroke": null},
  "resolve": {"scale": {"color": "independent"}},
  "encoding": {
    "x": {"field": "x", "type": "quantitative", "scale": {"domain": [0, 100], "nice": false, "zero": false}, "axis": null},
    "y": {"field": "y", "type": "quantitative", "scale": {"domain": [0, 100], "nice": false, "zero": false}, "axis": null}
  },
  "layer": [
    {
      "data": {"values": [
        {"level": "E_C", "x": 12.63, "x2": 29.17, "y": 68.84, "y2": 60.30},
        {"level": "E_V", "x": 12.63, "x2": 29.17, "y": 8.04, "y2": 0},
        {"level": "E_R", "x": -2.42, "x2": 8.87, "y": 43.72, "y2": 40.20},
        {"level": "E_C", "x": 70.16, "x2": 86.83, "y": 68.84, "y2": 60.30},
        {"level": "E_V", "x": 70.16, "x2": 86.83, "y": 8.04, "y2": 0},
        {"level": "E_R,C", "x": 55.24, "x2": 66.26, "y": 82.41, "y2": 78.39}
      ]},
      "mark": {"type": "rect"},
      "encoding": {
        "x2": {"field": "x2"}, "y2": {"field": "y2"},
        "color": {"field": "level", "type": "nominal", "scale": {"domain": ["E_C", "E_V", "E_R", "E_R,C"], "range": ["#0b1a42", "#0b1a42", "#c1272d", "#c1272d"]}, "legend": null}
      }
    },
    {
      "data": {"values": [{"x": 55.38, "x2": 66.4, "y": 41.71}]},
      "mark": {"type": "rule", "color": "#c1272d", "strokeWidth": 3, "strokeDash": [11, 8]},
      "encoding": {"x2": {"field": "x2"}}
    },
    {
      "data": {"values": [
        {"step": "quench", "x": 11.69, "y": 63.82, "x2": 5.75, "y2": 48.27},
        {"step": "excite", "x": 20.83, "y": 11.06, "x2": 20.83, "y2": 54.77},
        {"step": "excite", "x": 76.21, "y": 11.06, "x2": 76.21, "y2": 54.77},
        {"step": "blocked", "x": 69.49, "y": 65.33, "x2": 62.46, "y2": 75.28},
        {"step": "emit", "x": 80.65, "y": 57.29, "x2": 80.65, "y2": 14.22}
      ]},
      "mark": {"type": "rule", "strokeWidth": 3.5},
      "encoding": {
        "x2": {"field": "x2"}, "y2": {"field": "y2"},
        "color": {"field": "step", "type": "nominal", "scale": {"domain": ["quench", "excite", "blocked", "emit"], "range": ["black", "black", "black", "#c1272d"]}, "legend": null}
      }
    },
    {
      "data": {"values": [{"x": 60.75, "y": 48.24, "x2": 60.75, "y2": 71.46}]},
      "mark": {"type": "rule", "strokeWidth": 2.5, "color": "#f58025"},
      "encoding": {"x2": {"field": "x2"}, "y2": {"field": "y2"}}
    },
    {
      "data": {"values": [{"x": 20.83, "y": 53.62}, {"x": 76.21, "y": 53.62}]},
      "mark": {"type": "point", "shape": "triangle-up", "filled": true, "size": 160, "color": "black", "opacity": 1}
    },
    {
      "data": {"values": [{"x": 5.75, "y": 48.27}]},
      "mark": {"type": "point", "shape": "triangle-right", "angle": 145, "filled": true, "size": 150, "color": "black", "opacity": 1}
    },
    {
      "data": {"values": [{"x": 62.46, "y": 75.28}]},
      "mark": {"type": "point", "shape": "triangle-right", "angle": 201, "filled": true, "size": 110, "color": "black", "opacity": 1}
    },
    {
      "data": {"values": [{"x": 80.65, "y": 14.22}]},
      "mark": {"type": "point", "shape": "triangle-down", "filled": true, "size": 120, "color": "#c1272d", "opacity": 1}
    },
    {
      "data": {"values": [{"x": 60.75, "y": 71.46}]},
      "mark": {"type": "point", "shape": "triangle-up", "filled": true, "size": 70, "color": "#f58025", "opacity": 1}
    },
    {
      "data": {"values": [{"x": 89.11, "y": 47.74}]},
      "mark": {"type": "point", "shape": "M-1,0Q-0.9615,-0.125,-0.923,0Q-0.8845,0.125,-0.846,0Q-0.8075,-0.125,-0.769,0Q-0.7305,0.125,-0.692,0Q-0.6535,-0.125,-0.615,0Q-0.5765,0.125,-0.538,0Q-0.4995,-0.125,-0.461,0Q-0.4225,0.125,-0.384,0Q-0.3455,-0.125,-0.307,0Q-0.2685,0.125,-0.23,0Q-0.1915,-0.125,-0.153,0Q-0.1145,0.125,-0.076,0Q-0.0375,-0.125,0.001,0Q0.0395,0.125,0.078,0Q0.1165,-0.125,0.155,0Q0.1935,0.125,0.232,0Q0.2705,-0.125,0.309,0Q0.3475,0.125,0.386,0Q0.4245,-0.125,0.463,0Q0.5015,0.125,0.54,0Q0.5785,-0.125,0.617,0Q0.6555,0.125,0.694,0Q0.7325,-0.125,0.771,0Q0.8095,0.125,0.848,0L0.9,0", "filled": false, "size": 11151, "angle": 322.7, "color": "#ff2a2a", "strokeWidth": 2.2, "opacity": 1}
    },
    {
      "data": {"values": [{"x": 94.27, "y": 62.46}]},
      "mark": {"type": "point", "shape": "triangle-right", "angle": 322.7, "filled": true, "size": 60, "color": "#ff2a2a", "opacity": 1}
    },
    {
      "data": {"values": [{"x": 42.07, "y": 33.67}]},
      "mark": {"type": "point", "shape": "M-1,-0.21L0.42,-0.21L0.42,-0.385L1,0L0.42,0.385L0.42,0.21L-1,0.21Z", "filled": true, "size": 2704, "color": "black", "opacity": 1, "strokeWidth": 0}
    },
    {
      "data": {"values": [{"x": -9.41, "y": 73.37, "t": "c"}]},
      "mark": {"type": "text", "align": "left", "baseline": "alphabetic", "fontSize": 26, "fontWeight": "bold", "color": "black"},
      "encoding": {"text": {"field": "t"}}
    },
    {
      "data": {"values": [{"x": -3.90, "y": 74.87, "t": "Quenching"}, {"x": 36.56, "y": 48.24, "t": "Glucose"}, {"x": 88.17, "y": 74.87, "t": "Emission"}]},
      "mark": {"type": "text", "align": "left", "baseline": "alphabetic", "fontSize": 18, "fontWeight": "bold", "color": "black"},
      "encoding": {"text": {"field": "t"}}
    },
    {
      "data": {"values": [{"x": 30.51, "y": 61.81, "t": "E"}, {"x": 30.51, "y": 1.01, "t": "E"}, {"x": -5.91, "y": 40.20, "t": "E"}, {"x": 50.0, "y": 76.88, "t": "E"}, {"x": 50.81, "y": 41.21, "t": "E"}]},
      "mark": {"type": "text", "align": "left", "baseline": "alphabetic", "fontSize": 17, "fontWeight": "bold", "color": "black"},
      "encoding": {"text": {"field": "t"}}
    },
    {
      "data": {"values": [{"x": 32.06, "y": 60.55, "t": "C"}, {"x": 32.06, "y": 0.5, "t": "V"}, {"x": -4.37, "y": 39.20, "t": "R"}, {"x": 51.55, "y": 75.13, "t": "R,C"}, {"x": 52.35, "y": 39.70, "t": "R"}]},
      "mark": {"type": "text", "align": "left", "baseline": "alphabetic", "fontSize": 10, "fontWeight": "bold", "color": "black"},
      "encoding": {"text": {"field": "t"}}
    },
    {
      "data": {"values": [{"x": 65.73, "y": 66.33, "t": "X"}]},
      "mark": {"type": "text", "align": "center", "baseline": "alphabetic", "fontSize": 19, "fontWeight": "bold", "color": "#f58025"},
      "encoding": {"text": {"field": "t"}}
    }
  ]
}
]
}
